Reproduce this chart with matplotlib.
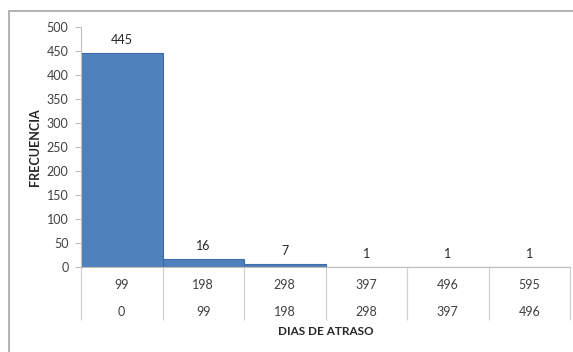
import matplotlib
matplotlib.use("Agg")
import matplotlib.pyplot as plt
from matplotlib.patches import Rectangle
import numpy as np

# histogram of delay days: class limits and counts
lower_limits = [0, 99, 198, 298, 397, 496]
upper_limits = [99, 198, 298, 397, 496, 595]
frecuencia = [445, 16, 7, 1, 1, 1]

plt.rcParams['font.family'] = ['Lato', 'DejaVu Sans']

bar_color = '#4F81BD'
grid_gray = '#BFBFBF'
text_gray = '#404040'

fig = plt.figure(figsize=(5.73, 3.52), dpi=100)
ax = fig.add_axes([81 / 573, 1 - 267 / 352, 489 / 573, 240 / 352])

# outer chart frame
fig.patches.append(Rectangle((9 / 573, -0.1), 1.2, 1 - 11 / 352 + 0.1,
                             transform=fig.transFigure, fill=False,
                             edgecolor='#A6A6A6', linewidth=1.2))

x = np.arange(len(frecuencia))
bars = ax.bar(x, frecuencia, width=1.0, align='edge', color=bar_color,
              edgecolor='#3D6DA8', linewidth=0.8, zorder=2)

for xi, val in zip(x, frecuencia):
    ax.annotate(str(val), (xi + 0.5, val), xytext=(0, 5),
                textcoords='offset points', ha='center', va='bottom',
                fontsize=9, color='#262626')

ax.set_xlim(0, len(frecuencia))
ax.set_ylim(0, 500)
ax.set_yticks(np.arange(0, 501, 50))
ax.tick_params(axis='y', length=4, width=0.8, color=grid_gray,
               labelsize=9, labelcolor=text_gray, pad=5)

# category separators drawn as long outward ticks
ax.set_xticks(np.arange(0, len(frecuencia) + 1))
ax.set_xticklabels([])
ax.tick_params(axis='x', length=38, width=0.9, color='#D0D0D0')

trans = ax.get_xaxis_transform()
for xi, hi, lo in zip(x, upper_limits, lower_limits):
    ax.text(xi + 0.5, -0.075, str(hi), transform=trans, ha='center',
            va='center', fontsize=9, color=text_gray)
    ax.text(xi + 0.5, -0.1875, str(lo), transform=trans, ha='center',
            va='center', fontsize=9, color=text_gray)

for side in ['top', 'right']:
    ax.spines[side].set_visible(False)
ax.spines['left'].set_color('#BFBFBF')
ax.spines['bottom'].set_color('#BFBFBF')

ax.set_xlabel('DIAS DE ATRASO', fontsize=8.5, fontweight='bold', color='#262626')
ax.xaxis.set_label_coords(0.5, -0.245)
ax.set_ylabel('FRECUENCIA', fontsize=9, fontweight='bold', color='#262626')
ax.yaxis.set_label_coords(-0.082, 0.5)

fig.savefig('out.png', dpi=100)
